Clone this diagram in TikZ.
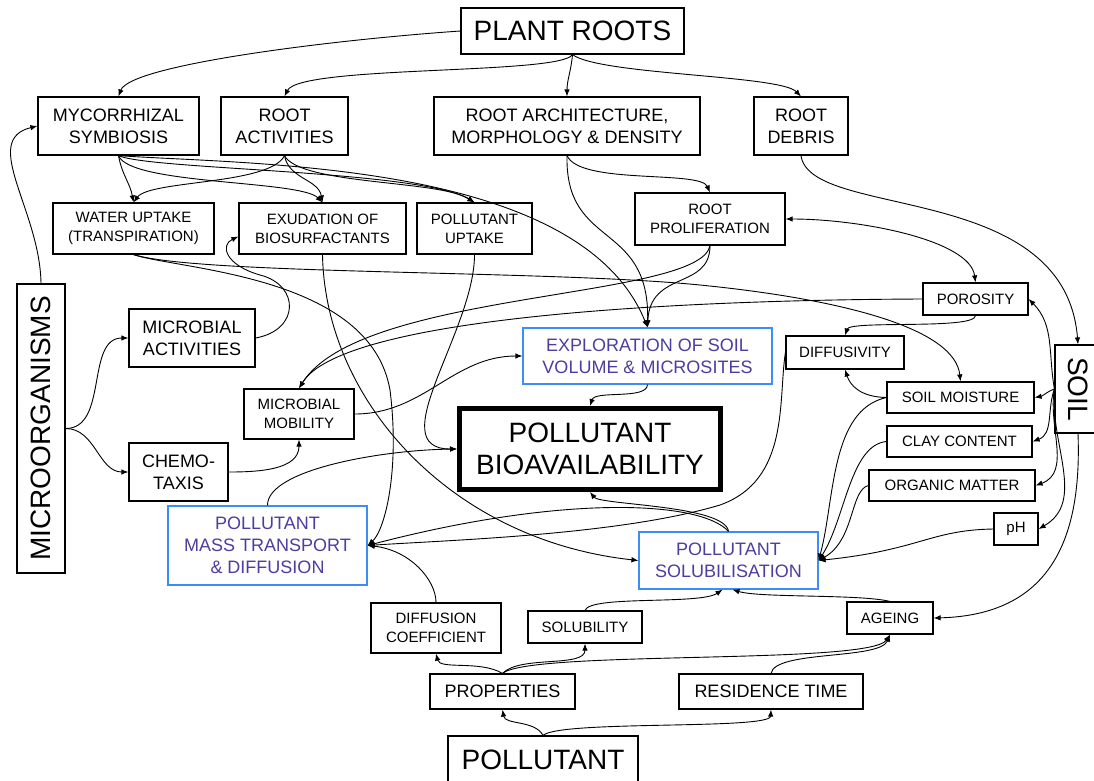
\documentclass[tikz,border=0pt]{standalone}
\usepackage{fontspec}
\usepackage{graphicx}
\setmainfont{Liberation Sans}
\usetikzlibrary{arrows.meta}

\definecolor{boxblue}{RGB}{60,140,250}
\definecolor{textblue}{RGB}{75,62,160}

\begin{document}
\begin{tikzpicture}[
    x=1pt, y=1pt,
    >={Latex[length=7pt,width=5.5pt]},
    every node/.style={font=\fontsize{18}{22}\selectfont},
    box/.style={draw, line width=1.2pt, align=center, inner sep=0pt},
    small/.style={font=\fontsize{15}{19}\selectfont},
    big/.style={font=\fontsize{28}{32}\selectfont},
    bluebox/.style={box, draw=boxblue, text=textblue},
    link/.style={->, line width=0.9pt}
  ]
  \useasboundingbox[fill=white] (0,0) rectangle (1094,-780);

  \node[box, big, minimum width=223, minimum height=46] (pr) at (572.5,-31) {PLANT ROOTS};
  \node[box, minimum width=161, minimum height=58] (myc) at (118.5,-126) {MYCORRHIZAL\\SYMBIOSIS};
  \node[box, minimum width=127, minimum height=58] (ra) at (284.5,-126) {ROOT\\ACTIVITIES};
  \node[box, minimum width=266, minimum height=58] (arch) at (567,-126) {ROOT ARCHITECTURE,\\MORPHOLOGY \& DENSITY};
  \node[box, minimum width=94, minimum height=58] (deb) at (801,-126) {ROOT\\DEBRIS};
  \node[box, small, minimum width=161, minimum height=51] (wu) at (133.5,-228.5) {WATER UPTAKE\\(TRANSPIRATION)};
  \node[box, small, minimum width=167, minimum height=51] (exu) at (322.5,-228.5) {EXUDATION OF\\BIOSURFACTANTS};
  \node[box, small, minimum width=115, minimum height=51] (pu) at (474.5,-228.5) {POLLUTANT\\UPTAKE};
  \node[box, small, minimum width=150, minimum height=52] (rp) at (710,-219) {ROOT\\PROLIFERATION};
  \node[box, small, minimum width=105, minimum height=32] (por) at (975.5,-299) {POROSITY};
  \node[box, big, minimum width=46, minimum height=88] (soil) at (1078,-389) {\rotatebox{-90}{SOIL}};
  \node[box, big, minimum width=48, minimum height=289] (micro) at (41,-428.5) {\rotatebox{90}{MICROORGANISMS}};
  \node[box, minimum width=126, minimum height=58] (ma) at (192,-338) {MICROBIAL\\ACTIVITIES};
  \node[box, minimum width=99, minimum height=58] (ch) at (178.5,-472) {CHEMO-\\TAXIS};
  \node[box, small, minimum width=110, minimum height=50] (mm) at (299,-414) {MICROBIAL\\MOBILITY};
  \node[bluebox, minimum width=249, minimum height=56] (expl) at (647.5,-356) {EXPLORATION OF SOIL\\VOLUME \& MICROSITES};
  \node[box, small, minimum width=118, minimum height=33] (dif) at (845,-352.5) {DIFFUSIVITY};
  \node[box, small, minimum width=147, minimum height=31] (sm) at (960.5,-397.5) {SOIL MOISTURE};
  \node[box, small, minimum width=145, minimum height=31] (cc) at (959.5,-441.5) {CLAY CONTENT};
  \node[box, small, minimum width=166, minimum height=31] (om) at (952,-485.5) {ORGANIC MATTER};
  \node[box, small, minimum width=44, minimum height=32] (ph) at (1016,-529) {pH};
  \node[box, big, line width=5pt, minimum width=261, minimum height=81] (bioav) at (590,-449) {POLLUTANT\\BIOAVAILABILITY};
  \node[bluebox, minimum width=199, minimum height=79] (mt) at (267.5,-545.5) {POLLUTANT\\MASS TRANSPORT\\\& DIFFUSION};
  \node[bluebox, minimum width=179, minimum height=57] (sol) at (728.5,-560.5) {POLLUTANT\\SOLUBILISATION};
  \node[box, small, minimum width=130, minimum height=50] (dc) at (436,-628) {DIFFUSION\\COEFFICIENT};
  \node[box, small, minimum width=114, minimum height=32] (sty) at (585,-627) {SOLUBILITY};
  \node[box, small, minimum width=86, minimum height=32] (age) at (890,-618) {AGEING};
  \node[box, minimum width=145, minimum height=35] (prop) at (502.5,-691.5) {PROPERTIES};
  \node[box, minimum width=184, minimum height=35] (rt) at (771,-691.5) {RESIDENCE TIME};
  \node[box, big, minimum width=190, minimum height=48] (pol) at (543,-760) {POLLUTANT};

  \draw[link] (pr.west) .. controls (330,-40) and (130,-65) .. (myc.north);
  \draw[link] (pr.south) .. controls (560,-75) and (300,-65) .. (ra.north);
  \draw[link] (pr.south) to[out=-95,in=90] (arch.north);
  \draw[link] (pr.south) .. controls (600,-75) and (780,-75) .. (deb.north);

  \draw[link] (myc.south) to[out=-80,in=100] (wu.north);
  \draw[link] (myc.south) .. controls (130,-185) and (300,-180) .. (exu.north);
  \draw[link] (myc.south) .. controls (150,-170) and (420,-170) .. (pu.north);
  \draw[link] (myc.south) .. controls (250,-165) and (580,-160) .. (expl.north);
  \draw[link] (ra.south) .. controls (270,-185) and (150,-180) .. (wu.north);
  \draw[link] (ra.south) to[out=-80,in=100] (exu.north);
  \draw[link] (ra.south) .. controls (300,-185) and (440,-180) .. (pu.north);
  \draw[link] (arch.south) .. controls (580,-185) and (700,-170) .. (rp.north);
  \draw[link] (arch.south) .. controls (565,-250) and (650,-220) .. (expl.north);
  \draw[link] (rp.south) .. controls (710,-290) and (650,-270) .. (expl.north);
  \draw[link] (rp.south) .. controls (700,-300) and (360,-290) .. (mm.north);
  \draw[link] (por.west) .. controls (650,-300) and (340,-320) .. (mm.north);
  \draw[link] (por.south) .. controls (975,-330) and (850,-320) .. (dif.north);
  \draw[link, <->] (rp.east) .. controls (860,-219) and (970,-240) .. (por.north);
  \draw[link] (deb.south) .. controls (810,-220) and (1065,-180) .. (soil.north);

  \draw[link] (soil.west) to[out=100,in=-45] (por.east);
  \draw[link] (soil.west) to[out=-160,in=10] (sm.east);
  \draw[link] (soil.west) to[out=-110,in=20] (cc.east);
  \draw[link] (soil.west) to[out=-100,in=20] (om.east);
  \draw[link] (soil.west) to[out=-95,in=30] (ph.east);
  \draw[link] (soil.south) .. controls (1082,-540) and (1050,-615) .. (age.east);

  \draw[link] (sm.west) .. controls (860,-397) and (850,-385) .. (dif.south);
  \draw[link] (sm.west) .. controls (830,-410) and (835,-500) .. (sol.east);
  \draw[link] (cc.west) .. controls (850,-445) and (845,-520) .. (sol.east);
  \draw[link] (om.west) .. controls (850,-490) and (855,-540) .. (sol.east);
  \draw[link] (ph.west) .. controls (930,-530) and (920,-550) .. (sol.east);
  \draw[link] (dif.west) .. controls (778,-400) and (790,-480) .. (720,-505)
    .. controls (620,-535) and (450,-540) .. (mt.east);

  \draw[link] (wu.south) .. controls (180,-270) and (370,-275) .. (390,-390)
    .. controls (400,-470) and (385,-530) .. (mt.east);
  \draw[link] (wu.south) .. controls (200,-275) and (550,-270) .. (700,-285)
    .. controls (850,-300) and (955,-330) .. (sm.north);
  \draw[link] (exu.south) .. controls (325,-400) and (450,-540) .. (sol.west);
  \draw[link] (pu.south) to[out=-90,in=180] (bioav.west);
  \draw[link] (ma.east) .. controls (300,-330) and (300,-285) .. (260,-275)
    .. controls (225,-265) and (220,-245) .. ([yshift=-8pt]exu.west);
  \draw[link] (micro.north) .. controls (40,-210) and (-20,-140) .. (myc.west);
  \draw[link] (micro.east) to[out=0,in=180] (ma.west);
  \draw[link] (micro.east) to[out=0,in=180] (ch.west);
  \draw[link] (ch.east) to[out=0,in=-90] (mm.south);
  \draw[link] (mm.east) to[out=0,in=180] (expl.west);
  \draw[link] (expl.south) .. controls (647,-400) and (595,-390) .. (bioav.north);
  \draw[link] (mt.north) .. controls (267,-470) and (380,-450) .. (bioav.west);
  \draw[link] (sol.north) .. controls (725,-505) and (600,-505) .. (bioav.south);
  \draw[link] (sol.north) .. controls (700,-500) and (560,-495) .. (mt.east);
  \draw[link] (dc.north) .. controls (436,-580) and (410,-550) .. (mt.east);

  \draw[link] (sty.north) .. controls (590,-595) and (700,-605) .. ([xshift=-6pt]sol.south);
  \draw[link] (age.north) .. controls (860,-594) and (760,-598) .. ([xshift=4pt]sol.south);
  \draw[link] (prop.north) .. controls (480,-660) and (440,-670) .. (dc.south);
  \draw[link] (prop.north) .. controls (520,-655) and (585,-668) .. (sty.south);
  \draw[link] (prop.north) .. controls (530,-650) and (870,-665) .. (age.south);
  \draw[link] (rt.north) .. controls (775,-650) and (880,-660) .. (age.south);
  \draw[link] (pol.north) .. controls (535,-720) and (505,-725) .. (prop.south);
  \draw[link] (pol.north) .. controls (560,-720) and (770,-730) .. (rt.south);
\end{tikzpicture}
\end{document}
